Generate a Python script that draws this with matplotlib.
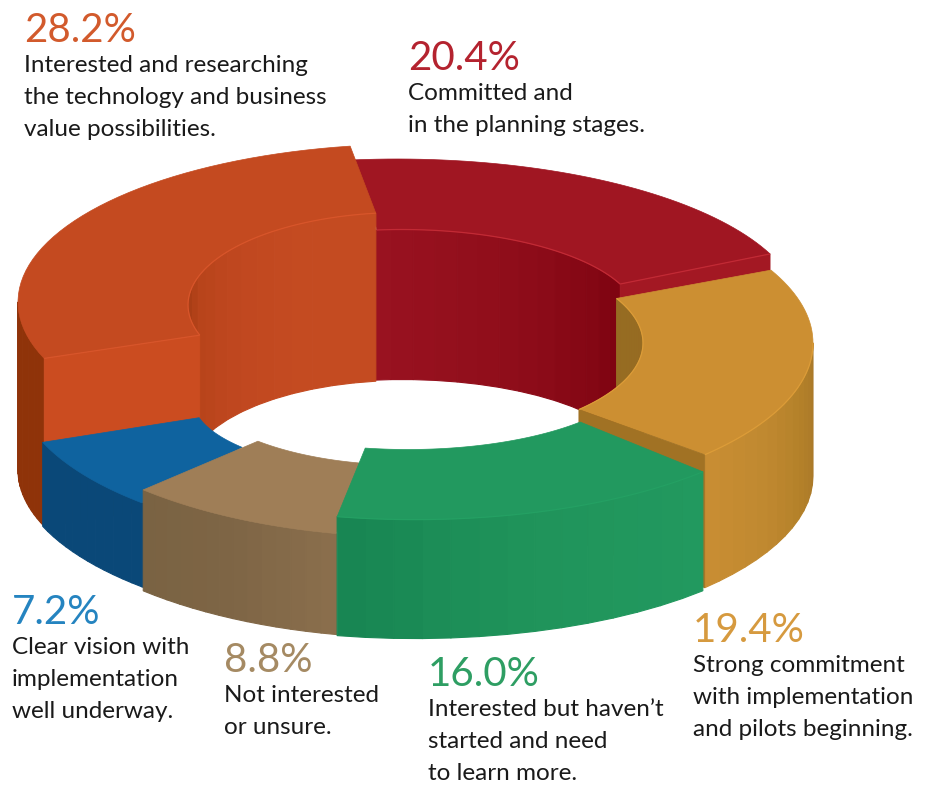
import numpy as np
import matplotlib
matplotlib.use("Agg")
import matplotlib.pyplot as plt
from matplotlib.collections import PolyCollection
from matplotlib.colors import to_rgb
from matplotlib.patches import Polygon

# survey answers, clockwise from the top of the ring
values = [20.4, 19.4, 16.0, 8.8, 7.2, 28.2]
names = [
    "Committed and\nin the planning stages.",
    "Strong commitment\nwith implementation\nand pilots beginning.",
    "Interested but haven\u2019t\nstarted and need\nto learn more.",
    "Not interested\nor unsure.",
    "Clear vision with\nimplementation\nwell underway.",
    "Interested and researching\nthe technology and business\nvalue possibilities.",
]
label_colors = ["#b4232f", "#d69a3f", "#2e9e63", "#a58a63", "#2584c0", "#d25a2c"]
label_pos = [(408, 70), (693, 642), (428, 686), (224, 672), (12, 624), (24, 42)]

START = -96.0

# outer and inner rim of each slice: cx, cy, rx, ry, turn
# every slice sits at its own height, so each one gets its own ellipses
outer = [
    (397, 313, 404, 154, 0.0),
    (415, 343, 398, 163, -4.0),
    (415, 365, 398, 154.6, -3.6),
    (415, 362, 398, 175, -3.5),
    (415, 385, 398, 162, -3.2),
    (415, 302, 397, 158, -3.4),
]
inner = [
    (401.7, 318, 236.5, 88.5, 0.0),
    (402, 343, 241, 98, -4.5),
    (408, 363.5, 235, 86, -4.4),
    (405, 377, 215, 88, -3.4),
    (405, 400, 212, 74, 3.7),
    (404, 305, 216, 92.6, -1.5),
]
heights = [150, 133, 119, 101, 84, 168]

top_colors = ["#a01622", "#cc8f32", "#22995f", "#9f7e57", "#0f639f", "#c44a20"]
cut_colors = ["#a31823", "#a17224", None, None, None, "#cb4c20"]
edge_colors = ["#c22a35", "#dc9c38", "#2aa469", "#a98860", "#1570b0", "#d8552a"]


def rim(e, a, b, n=48):
    t = np.radians(np.linspace(a, b, n) + e[4])
    return np.column_stack([e[0] + e[2] * np.cos(t), e[1] + e[3] * np.sin(t)])


def shade(stops, f):
    rgb = np.array([to_rgb(c) for c in stops])
    pos = np.linspace(0, 1, len(stops))
    return [np.interp(f, pos, rgb[:, i]) for i in range(3)]


def wall(ax, e, a, b, h, stops, z, bands=14):
    # vertical strips, so the shading steps across the wall
    pts = rim(e, a, b, bands + 1)
    polys = []
    cols = []
    for i in range(bands):
        p, q = pts[i], pts[i + 1]
        polys.append([p, q, q + [0, h], p + [0, h]])
        cols.append(shade(stops, (i + 0.5) / bands))
    ax.add_collection(PolyCollection(polys, facecolors=cols, edgecolors=cols, linewidths=0.8, zorder=z))


def top(ax, i, a, b, z):
    o = rim(outer[i], a, b)
    n = rim(inner[i], a, b)
    ax.add_patch(Polygon(np.vstack([o, n[::-1]]), closed=True, fc=top_colors[i], ec=top_colors[i], lw=0.5, zorder=z))


def cut(ax, i, ang, z):
    o = rim(outer[i], ang, ang, 1)[0]
    n = rim(inner[i], ang, ang, 1)[0]
    h = heights[i]
    ax.add_patch(Polygon([o, n, n + [0, h], o + [0, h]], closed=True, fc=cut_colors[i], ec=cut_colors[i], lw=0.5, zorder=z))


def line(ax, pts, color, z):
    ax.plot(pts[:, 0], pts[:, 1], color=color, lw=0.9, zorder=z, solid_capstyle="butt")


fig = plt.figure(figsize=(9.26, 7.85), dpi=100)
ax = fig.add_axes([0, 0, 1, 1])
ax.set_xlim(0, 926)
ax.set_ylim(785, 0)
ax.axis("off")

sweep = np.array(values) / sum(values) * 360
ends = START + np.cumsum(sweep)
starts = ends - sweep
RED, YEL, GRN, BRN, BLU, ORG = range(6)

# red, at the back; its wall runs a little under the orange one
a, b = starts[RED], ends[RED]
wall(ax, inner[RED], a - 2, b, heights[RED], ["#9a1220", "#8e0d1a", "#7e0310"], 1)
cut(ax, RED, b, 2)
top(ax, RED, a, b, 3)
line(ax, rim(inner[RED], a, b), edge_colors[RED], 4)
p = rim(outer[RED], b, b, 1)[0]
q = rim(inner[RED], b, b, 1)[0]
line(ax, np.array([p, q]), edge_colors[RED], 4)

# yellow
a, b = starts[YEL], ends[YEL]
wall(ax, inner[YEL], a, 4.5, heights[YEL], ["#966c22", "#966c22"], 5)
wall(ax, outer[YEL], 4, b, heights[YEL], ["#a87829", "#b38029", "#c08930", "#c98e33"], 5)
top(ax, YEL, a, b, 6)
cut(ax, YEL, b, 7)
line(ax, rim(outer[YEL], 4, b), edge_colors[YEL], 8)
line(ax, rim(inner[YEL], a, b), edge_colors[YEL], 8)

# orange, the tallest one
a, b = starts[ORG], ends[ORG]
wall(ax, outer[ORG], a, 183.4, heights[ORG], ["#8f3309", "#8f3309"], 9)
wall(ax, inner[ORG], 181.5, b, heights[ORG], ["#9e3a12", "#b8441b", "#c04820", "#c44b21", "#c44b21"], 10)
cut(ax, ORG, a, 11)
top(ax, ORG, a, b, 12)
line(ax, rim(inner[ORG], a, b), edge_colors[ORG], 13)
p = rim(outer[ORG], a, a, 1)[0]
q = rim(inner[ORG], a, a, 1)[0]
line(ax, np.array([p, q]), edge_colors[ORG], 13)

# blue, running a little under the brown slice
a, b = starts[BLU], ends[BLU]
wall(ax, outer[BLU], a - 2, b, heights[BLU], ["#0a4878", "#0a4878"], 14)
top(ax, BLU, a, b, 15)

# brown
a, b = starts[BRN], ends[BRN]
wall(ax, outer[BRN], a, b, heights[BRN], ["#8b6f4d", "#7e6545", "#7a6343"], 16)
top(ax, BRN, a, b, 17)

# green, in front
a, b = starts[GRN], ends[GRN]
wall(ax, outer[GRN], a, b, heights[GRN], ["#22995f", "#20945b", "#178552"], 18)
top(ax, GRN, a, b, 19)
line(ax, rim(outer[GRN], a, b), "#24a063", 20)

# percentages and captions
for v, name, col, (x, y) in zip(values, names, label_colors, label_pos):
    ax.text(x, y, f"{v}%", color=col, fontsize=29, family="Lato", va="baseline", ha="left", zorder=30)
    for k, txt in enumerate(name.split("\n")):
        ax.text(x, y + 30 + k * 32, txt, color="#1a1a1a", fontsize=17.5, family="Lato", va="baseline", ha="left", zorder=30)

fig.savefig("out.png", dpi=100)
